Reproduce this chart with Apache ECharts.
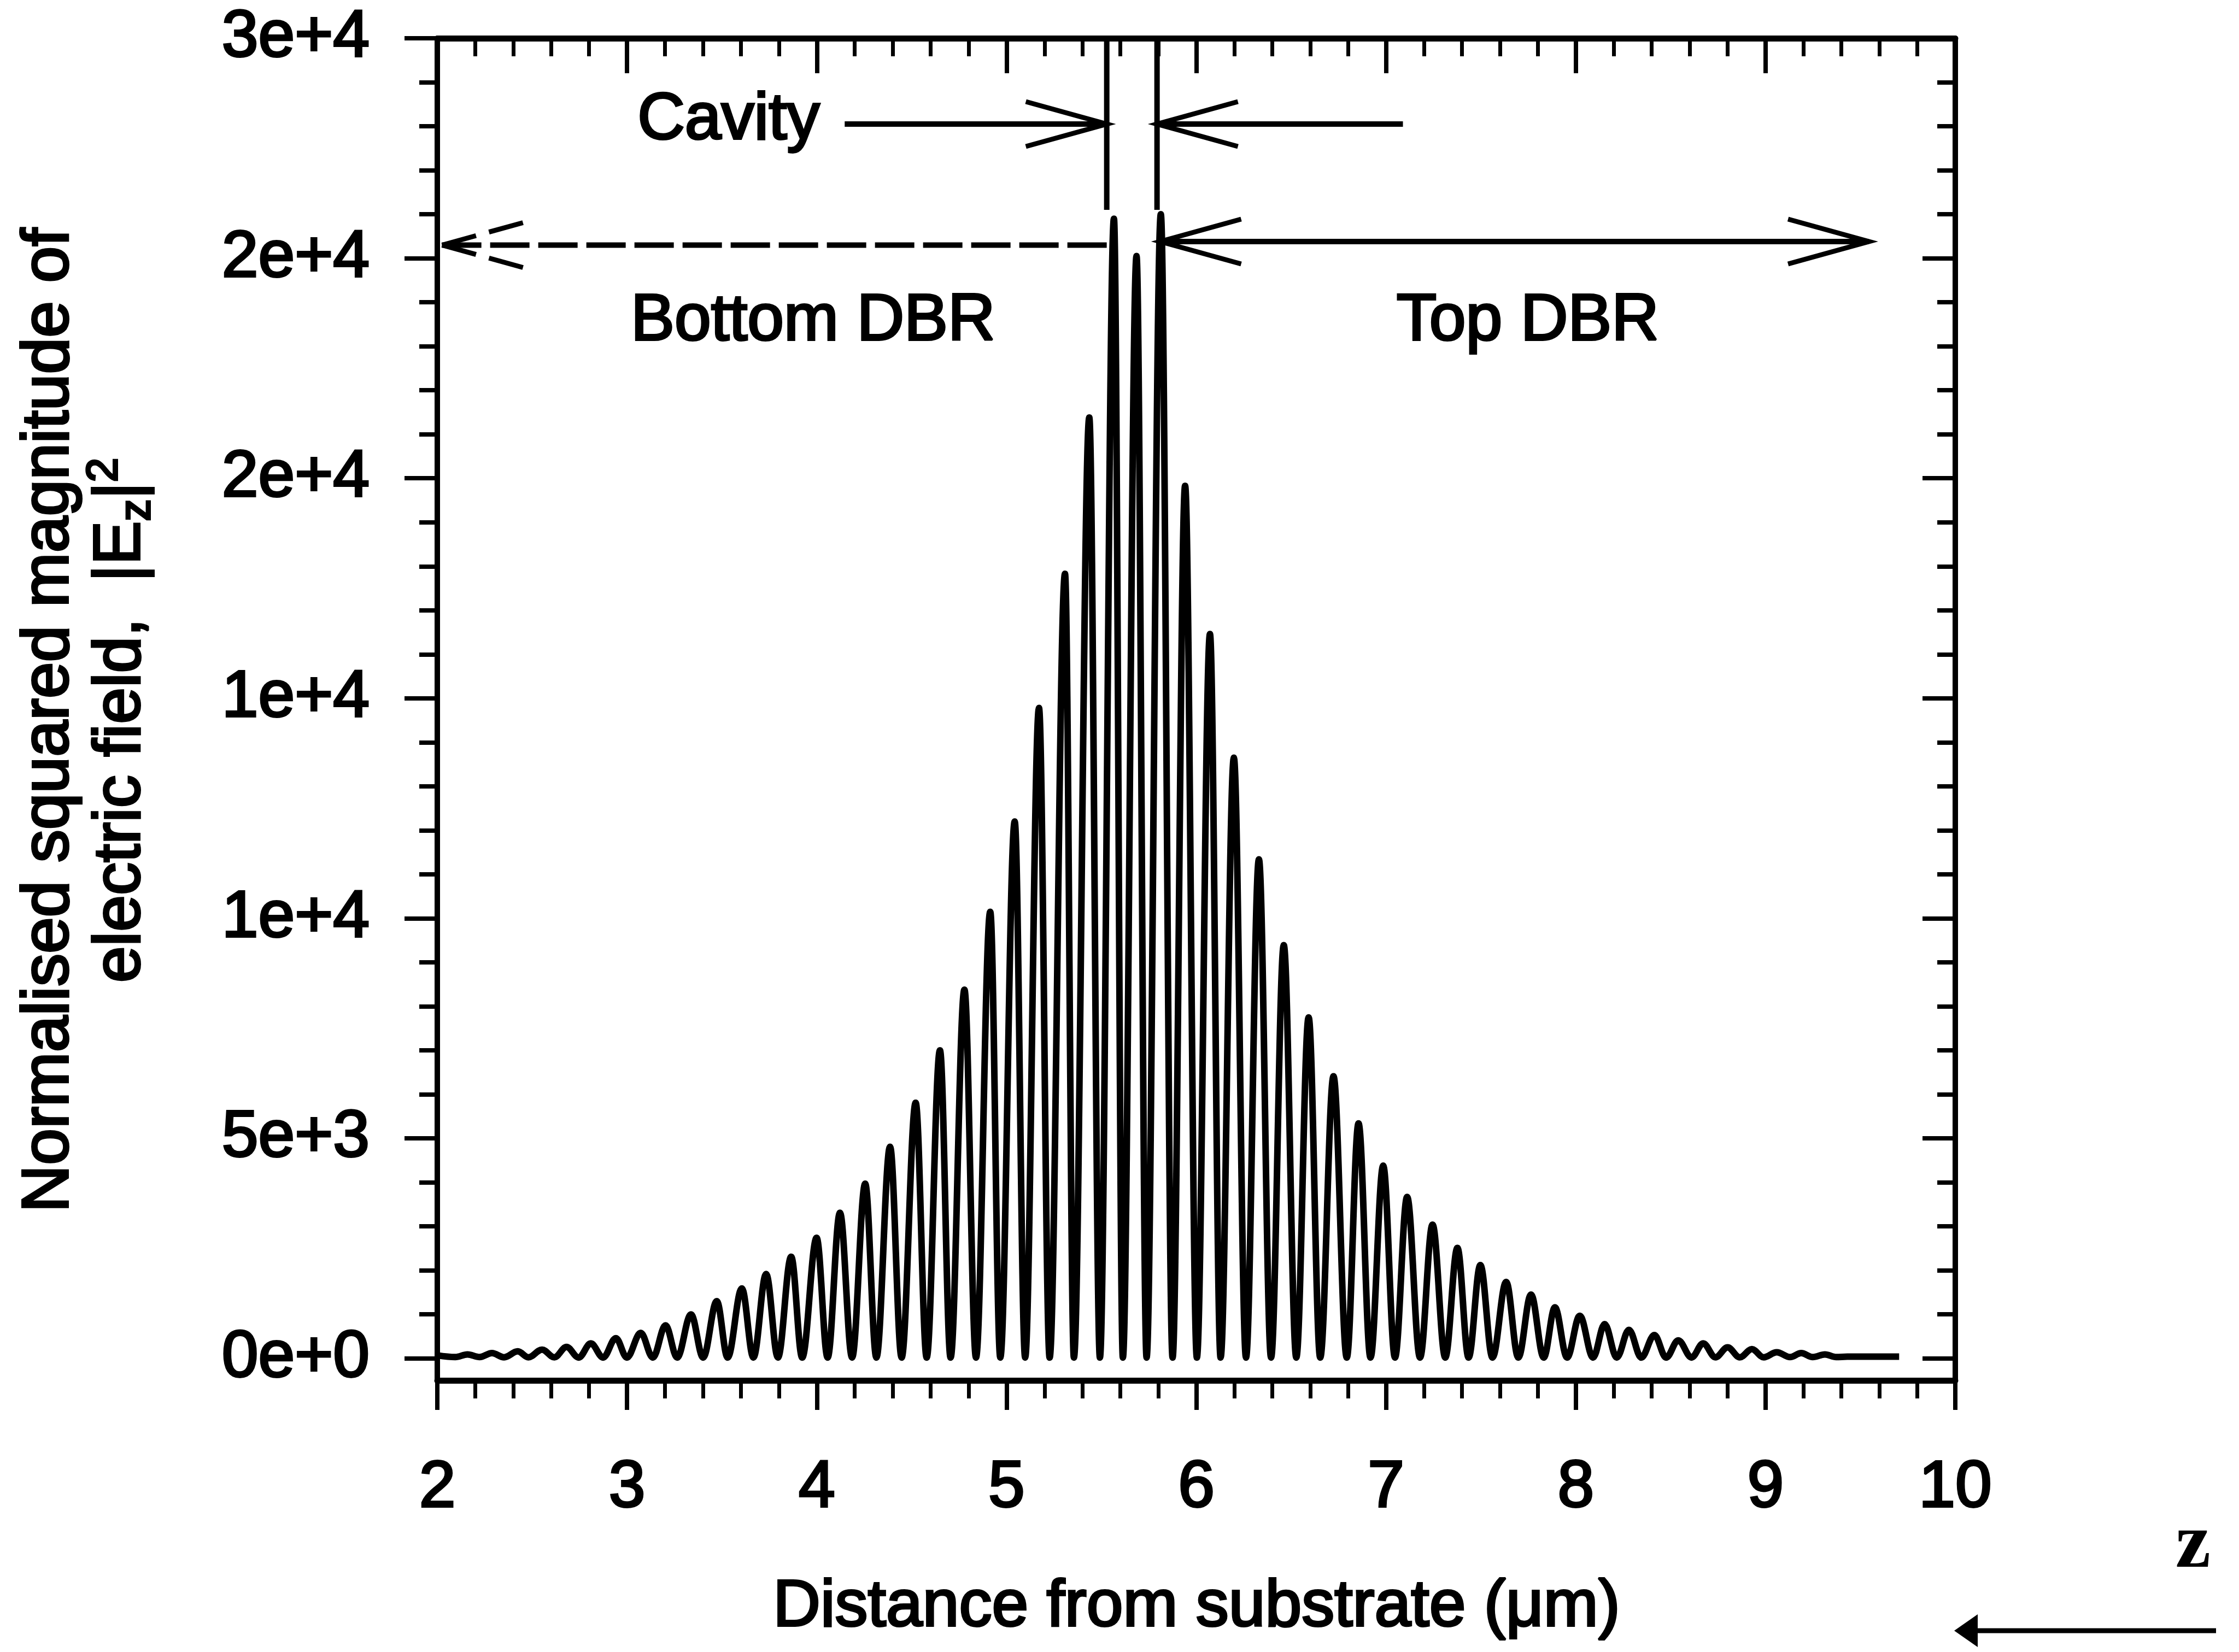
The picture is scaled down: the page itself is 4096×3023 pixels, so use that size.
<!DOCTYPE html>
<html>
<head>
<meta charset="utf-8">
<script src="https://cdn.jsdelivr.net/npm/echarts@6/dist/echarts.min.js"></script>
<style>
html, body { margin: 0; padding: 0; background: #fff; }
#chart { width: 4096px; height: 3023px; }
</style>
</head>
<body>
<div id="chart"></div>
<script>
// field profile: maxima and minima of |Ez|^2 against z (um)
var startPoint = [2.0, 70];
var peakX = [2.159, 2.288, 2.424, 2.552, 2.681, 2.809, 2.941, 3.072, 3.203, 3.337, 3.473, 3.605, 3.733, 3.865,
    3.999, 4.122, 4.255, 4.386, 4.521, 4.649, 4.778, 4.914, 5.043, 5.171, 5.308, 5.436, 5.566, 5.685, 5.813,
    5.941, 6.072, 6.198, 6.330, 6.461, 6.592, 6.723, 6.855, 6.985, 7.111, 7.245, 7.376, 7.497, 7.633, 7.764,
    7.890, 8.021, 8.152, 8.280, 8.414, 8.540, 8.671, 8.800, 8.928, 9.059, 9.188, 9.313];
var peakY = [90, 120, 160, 200, 260, 340, 460, 580, 750, 1000, 1300, 1590, 1920, 2310,
    2740, 3310, 3970, 4810, 5810, 7000, 8380, 10150, 12200, 14780, 17830, 21380, 25900, 25050, 26000,
    19830, 16460, 13650, 11340, 9390, 7750, 6410, 5340, 4380, 3670, 3040, 2510, 2120, 1740, 1450,
    1160, 970, 780, 650, 530, 410, 340, 250, 210, 140, 120, 90];
var troughX = [2.095, 2.223, 2.352, 2.480, 2.617, 2.745, 2.874, 2.999, 3.136, 3.264, 3.401, 3.530, 3.666, 3.795,
    3.923, 4.057, 4.186, 4.314, 4.447, 4.579, 4.705, 4.839, 4.967, 5.098, 5.227, 5.355, 5.492, 5.613, 5.738,
    5.875, 6.003, 6.128, 6.262, 6.394, 6.527, 6.653, 6.793, 6.918, 7.047, 7.179, 7.312, 7.435, 7.561, 7.697,
    7.831, 7.954, 8.091, 8.216, 8.345, 8.476, 8.610, 8.736, 8.864, 8.990, 9.129, 9.249, 9.372];
var troughY = [30, 30, 25, 25, 25, 20, 20, 20, 20, 20, 20, 20, 20, 20,
    20, 20, 20, 20, 20, 20, 20, 20, 20, 20, 20, 20, 20, 20, 20,
    20, 20, 20, 20, 20, 20, 20, 20, 20, 20, 20, 20, 20, 20, 20,
    20, 20, 20, 20, 20, 20, 20, 25, 25, 25, 30, 30, 30];
var tailX = [9.431, 9.704];
var tailY = [40, 40];

// axes
var xMin = 2, xMax = 10;
var yMin = -500, yMax = 30000;
var yMajor = [0, 5000, 10000, 15000, 20000, 25000, 30000];
var yMajorLabels = ['0e+0', '5e+3', '1e+4', '1e+4', '2e+4', '2e+4', '3e+4'];
var yMinor = [1000, 2000, 3000, 4000, 6000, 7000, 8000, 9000, 11000, 12000, 13000, 14000,
    16000, 17000, 18000, 19000, 21000, 22000, 23000, 24000, 26000, 27000, 28000, 29000];

// annotations (data coordinates)
var cavityEdges = [5.528, 5.793];
var cavityEdgeBottom = 26100;
var cavityArrowY = 28050;
var cavityArrowOuter = [4.147, 7.089];
var bottomDbrY = 25300, bottomDbrEnds = [2.025, 5.528];
var topDbrY = 25380, topDbrEnds = [5.81, 9.545];
var notes = [
    { text: 'Cavity', x: 3.535, y: 28130 },
    { text: 'Bottom DBR', x: 3.98, y: 23560 },
    { text: 'Top DBR', x: 7.747, y: 23560 }
];

var font = '"Liberation Sans", Arial, sans-serif';
var ink = '#000';
var heavy = 4;

var points = [startPoint];
for (var i = 0; i < troughX.length; i++) {
    points.push([troughX[i], troughY[i]]);
    if (i < peakX.length) points.push([peakX[i], peakY[i]]);
}
for (var j = 0; j < tailX.length; j++) points.push([tailX[j], tailY[j]]);

var labelStyle = { color: ink, fontSize: 120, fontFamily: font, textBorderColor: ink, textBorderWidth: heavy };

function xAxisDef(pos, inside) {
    return {
        type: 'value', position: pos, min: xMin, max: xMax, interval: 1,
        axisLine: { onZero: false, lineStyle: { color: ink, width: 11 } },
        axisTick: { inside: inside, length: inside ? 64 : 54, lineStyle: { color: ink, width: 8 } },
        minorTick: { show: true, splitNumber: 5, length: 33, lineStyle: { color: ink, width: 7 } },
        axisLabel: pos === 'bottom'
            ? Object.assign({ margin: 138 }, labelStyle)
            : { show: false },
        splitLine: { show: false }
    };
}

function yAxisDef(pos, inside, ticks, len, showLine, showLabel) {
    return {
        type: 'value', position: pos, min: yMin, max: yMax,
        axisLine: { show: showLine, onZero: false, lineStyle: { color: ink, width: 10 } },
        axisTick: { inside: inside, length: len, customValues: ticks, lineStyle: { color: ink, width: 8 } },
        axisLabel: showLabel ? Object.assign({
            margin: 124, customValues: yMajor,
            formatter: function(v) { return yMajorLabels[yMajor.indexOf(v)] || ''; }
        }, labelStyle) : { show: false },
        splitLine: { show: false }
    };
}

var chart = echarts.init(document.getElementById('chart'));
chart.setOption({
    animation: false,
    backgroundColor: '#fff',
    grid: { left: 800, top: 70, width: 2777, height: 2456, outerBoundsMode: 'none' },
    xAxis: [xAxisDef('bottom', false), xAxisDef('top', true)],
    yAxis: [
        yAxisDef('left', false, yMajor, 60, true, true),
        yAxisDef('left', false, yMinor, 33, false, false),
        yAxisDef('right', true, yMajor, 60, true, false),
        yAxisDef('right', true, yMinor, 33, false, false)
    ],
    series: [{
        type: 'line', data: points, xAxisIndex: 0, yAxisIndex: 0,
        showSymbol: false, smooth: 0.36, smoothMonotone: 'x',
        lineStyle: { color: ink, width: 12 }
    }]
});

function px(x, y) { return chart.convertToPixel({ xAxisIndex: 0, yAxisIndex: 0 }, [x, y]); }
function seg(a, b, dash) {
    return { type: 'line', z: 50, shape: { x1: a[0], y1: a[1], x2: b[0], y2: b[1] },
        style: { stroke: ink, lineWidth: 10, lineDash: dash || null } };
}
// open V arrow head, dir = +1 points right, -1 points left
function head(tip, dir) {
    var len = 148, half = 41;
    return { type: 'polyline', z: 50,
        shape: { points: [[tip[0] - dir * len, tip[1] - half], tip, [tip[0] - dir * len, tip[1] + half]] },
        style: { stroke: ink, lineWidth: 9, fill: null } };
}
// dashed head of the bottom DBR arrow: each arm broken once
function dashedHead(tip, dir) {
    var len = 148, half = 41, out = [];
    [-1, 1].forEach(function(s) {
        var end = [tip[0] - dir * len, tip[1] + s * half];
        var at = function(t) { return [tip[0] + (end[0] - tip[0]) * t, tip[1] + (end[1] - tip[1]) * t]; };
        out.push(seg(tip, at(0.42)), seg(at(0.58), end));
    });
    out.forEach(function(o) { o.style.lineWidth = 9; });
    return out;
}

var g = [];
cavityEdges.forEach(function(cx) {
    g.push(seg(px(cx, yMax), px(cx, cavityEdgeBottom)));
});
var cl = px(cavityEdges[0], cavityArrowY), cr = px(cavityEdges[1], cavityArrowY);
g.push(seg(px(cavityArrowOuter[0], cavityArrowY), cl), head(cl, 1));
g.push(seg(px(cavityArrowOuter[1], cavityArrowY), cr), head(cr, -1));

var bl = px(bottomDbrEnds[0], bottomDbrY);
g.push(seg(px(bottomDbrEnds[1], bottomDbrY), bl, [72, 16]));
g = g.concat(dashedHead(bl, -1));

var tl = px(topDbrEnds[0], topDbrY), tr = px(topDbrEnds[1], topDbrY);
g.push(seg(tl, tr), head(tl, -1), head(tr, 1));

notes.forEach(function(n) {
    var p = px(n.x, n.y);
    g.push({ type: 'text', z: 50, x: p[0], y: p[1],
        style: { text: n.text, fill: ink, fontSize: 120, fontFamily: font, align: 'center', verticalAlign: 'middle',
            stroke: ink, lineWidth: heavy } });
});

// axis titles
var textBase = { fill: ink, fontSize: 120, fontFamily: font, align: 'center', verticalAlign: 'middle', stroke: ink, lineWidth: heavy };
g.push({ type: 'text', x: 2189, y: 2942, style: Object.assign({ text: 'Distance from substrate (\u03bcm)' }, textBase) });
g.push({ type: 'text', x: 91, y: 1318, rotation: Math.PI / 2,
    style: Object.assign({ text: 'Normalised squared magnitude of' }, textBase) });
g.push({ type: 'text', x: 222, y: 1318, rotation: Math.PI / 2,
    style: Object.assign({
        text: '{a|electric field,  |E}{s|z}{a||}{p|2}',
        rich: {
            a: { fontSize: 120, fontFamily: font, fill: ink, stroke: ink, lineWidth: heavy, lineHeight: 140 },
            s: { fontSize: 80, fontFamily: font, fill: ink, stroke: ink, lineWidth: heavy, lineHeight: 40, verticalAlign: 'bottom' },
            p: { fontSize: 80, fontFamily: font, fill: ink, stroke: ink, lineWidth: heavy, lineHeight: 40, verticalAlign: 'top' }
        }
    }, textBase) });

// z direction marker under the right corner
g.push({ type: 'text', x: 4012, y: 2830,
    style: { text: 'z', fill: ink, fontSize: 145, fontWeight: 'bold', fontFamily: '"Liberation Serif", "Times New Roman", serif',
        align: 'center', verticalAlign: 'middle' } });
g.push({ type: 'line', shape: { x1: 4054, y1: 2984, x2: 3610, y2: 2984 }, style: { stroke: ink, lineWidth: 9 } });
g.push({ type: 'polygon', shape: { points: [[3575, 2984], [3618, 2954], [3618, 3014]] }, style: { fill: ink } });

chart.setOption({ graphic: g });
</script>
</body>
</html>
